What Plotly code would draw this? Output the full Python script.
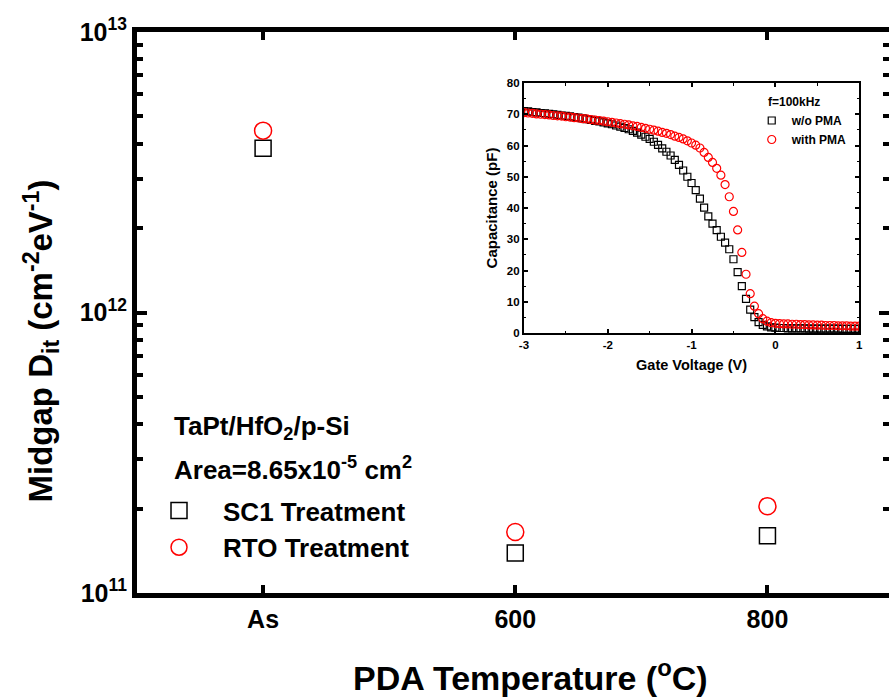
import plotly.graph_objects as go

# ---------------- main chart data ----------------
categories = ["As", "600", "800"]
sc1_dit = [3.85e12, 1.39e11, 1.60e11]
rto_dit = [4.45e12, 1.65e11, 2.04e11]

y_major = [1e11, 1e12, 1e13]
y_major_text = ["10<sup>11</sup>", "10<sup>12</sup>", "10<sup>13</sup>"]
y_minor = [2e11, 3e11, 4e11, 5e11, 6e11, 7e11, 8e11, 9e11,
           2e12, 3e12, 4e12, 5e12, 6e12, 7e12, 8e12, 9e12]

# ---------------- inset C-V data ----------------
gate_v = [-3.00, -2.95, -2.90, -2.85, -2.80, -2.75, -2.70, -2.65, -2.60, -2.55,
          -2.50, -2.45, -2.40, -2.35, -2.30, -2.25, -2.20, -2.15, -2.10, -2.05,
          -2.00, -1.95, -1.90, -1.85, -1.80, -1.75, -1.70, -1.65, -1.60, -1.55,
          -1.50, -1.45, -1.40, -1.35, -1.30, -1.25, -1.20, -1.15, -1.10, -1.05,
          -1.00, -0.95, -0.90, -0.85, -0.80, -0.75, -0.70, -0.65, -0.60, -0.55,
          -0.50, -0.45, -0.40, -0.35, -0.30, -0.25, -0.20, -0.15, -0.10, -0.05,
          0.00, 0.05, 0.10, 0.15, 0.20, 0.25, 0.30, 0.35, 0.40, 0.45,
          0.50, 0.55, 0.60, 0.65, 0.70, 0.75, 0.80, 0.85, 0.90, 0.95, 1.00]
cap_wo_pma = [71.0, 70.9, 70.7, 70.6, 70.4, 70.3, 70.1, 70.0, 69.8, 69.6,
              69.5, 69.3, 69.1, 68.9, 68.7, 68.4, 68.2, 67.9, 67.7, 67.4,
              67.1, 66.8, 66.4, 66.0, 65.6, 65.2, 64.7, 64.1, 63.5, 62.8,
              62.1, 61.2, 60.2, 59.1, 58.0, 56.8, 55.4, 53.8, 52.0, 50.0,
              48.0, 45.7, 43.0, 40.1, 37.3, 35.0, 32.9, 30.8, 28.9, 26.8,
              23.6, 19.5, 15.0, 10.9, 7.5, 5.1, 3.5, 2.6, 2.1, 1.8,
              1.7, 1.6, 1.6, 1.5, 1.5, 1.5, 1.5, 1.5, 1.4, 1.4,
              1.4, 1.4, 1.4, 1.4, 1.4, 1.4, 1.3, 1.3, 1.3, 1.3, 1.3]
cap_with_pma = [70.5, 70.4, 70.3, 70.1, 70.0, 69.9, 69.8, 69.6, 69.5, 69.4,
                69.2, 69.1, 68.9, 68.8, 68.6, 68.5, 68.3, 68.1, 68.0, 67.8,
                67.6, 67.4, 67.2, 67.0, 66.8, 66.6, 66.3, 66.1, 65.8, 65.5,
                65.2, 64.9, 64.6, 64.2, 63.9, 63.5, 63.0, 62.6, 62.1, 61.5,
                60.8, 60.1, 59.2, 57.8, 56.2, 54.6, 52.7, 50.5, 47.5, 43.6,
                38.9, 33.0, 25.8, 18.8, 12.6, 8.6, 6.2, 4.6, 3.8, 3.3,
                3.1, 3.0, 2.9, 2.9, 2.8, 2.8, 2.7, 2.7, 2.6, 2.6,
                2.5, 2.5, 2.4, 2.4, 2.4, 2.3, 2.3, 2.3, 2.2, 2.2, 2.2]

inset_x_ticks = [-3, -2, -1, 0, 1]
inset_x_text = ["-3", "-2", "-1", "0", "1"]
inset_y_ticks = [0, 10, 20, 30, 40, 50, 60, 70, 80]

FONT = "Liberation Sans, Arial, sans-serif"

fig = go.Figure()

# main traces
fig.add_trace(go.Scatter(
    x=categories, y=sc1_dit, mode="markers", name="SC1 Treatment",
    marker=dict(symbol="square-open", size=16, color="black", line=dict(width=1.5)),
    legend="legend", xaxis="x", yaxis="y"))
fig.add_trace(go.Scatter(
    x=categories, y=rto_dit, mode="markers", name="RTO Treatment",
    marker=dict(symbol="circle-open", size=17, color="red", line=dict(width=1.5)),
    legend="legend", xaxis="x", yaxis="y"))
# invisible carrier for the right-hand mirrored tick axis
fig.add_trace(go.Scatter(
    x=categories, y=sc1_dit, mode="markers", showlegend=False, hoverinfo="skip",
    marker=dict(opacity=0), xaxis="x", yaxis="y2"))

# inset traces
fig.add_trace(go.Scatter(
    x=gate_v, y=cap_wo_pma, mode="markers", name="w/o PMA",
    marker=dict(symbol="square-open", size=7, color="black", line=dict(width=1.2)),
    legend="legend2", xaxis="x2", yaxis="y3"))
fig.add_trace(go.Scatter(
    x=gate_v, y=cap_with_pma, mode="markers", name="with PMA",
    marker=dict(symbol="circle-open", size=8, color="red", line=dict(width=1.2)),
    legend="legend2", xaxis="x2", yaxis="y3"))

L, R, T, B = 137, 0, 32, 107
W, H = 893, 700
pw, ph = W - L - R, H - T - B

def px_x(x):
    return (x - L) / pw

def px_y(y):
    return (H - B - y) / ph

fig.update_layout(
    width=W, height=H,
    margin=dict(l=L, r=R, t=T, b=B),
    paper_bgcolor="white", plot_bgcolor="rgba(0,0,0,0)",
    font=dict(family=FONT, color="black", weight="bold"),
    xaxis=dict(
        type="category", categoryarray=categories, range=[-0.5, 2.482],
        showline=True, linewidth=5, linecolor="black", mirror="ticks",
        ticks="inside", ticklen=8, tickwidth=4, tickcolor="black",
        tickfont=dict(size=25, family=FONT, weight="bold"),
        showgrid=False, zeroline=False,
    ),
    yaxis=dict(
        type="log", range=[11, 13],
        tickmode="array", tickvals=y_major, ticktext=y_major_text,
        showline=True, linewidth=5, linecolor="black",
        ticks="inside", ticklen=10, tickwidth=4, tickcolor="black",
        tickfont=dict(size=25, family=FONT, weight="bold"),
        minor=dict(tickmode="array", tickvals=y_minor, ticks="inside",
                   ticklen=6, tickwidth=4, tickcolor="black", showgrid=False),
        showgrid=False, zeroline=False,
    ),
    yaxis2=dict(
        type="log", range=[11, 13], overlaying="y", side="right", anchor="x",
        tickmode="array", tickvals=y_major, showticklabels=False,
        showline=False, ticks="inside", ticklen=10, tickwidth=4, tickcolor="black",
        minor=dict(tickmode="array", tickvals=y_minor, ticks="inside",
                   ticklen=6, tickwidth=4, tickcolor="black", showgrid=False),
        showgrid=False, zeroline=False,
    ),
    xaxis2=dict(
        domain=[px_x(526), px_x(863)], anchor="y3", range=[-3, 1],
        tickmode="array", tickvals=inset_x_ticks, ticktext=inset_x_text,
        showline=True, linewidth=2, linecolor="black", mirror="ticks",
        ticks="inside", ticklen=4, tickwidth=1.5, tickcolor="black",
        minor=dict(dtick=0.5, tick0=0, ticks="inside", ticklen=2.5, tickwidth=1.2,
                   tickcolor="black", showgrid=False),
        tickfont=dict(size=11.5, family=FONT, weight="bold"),
        showgrid=False, zeroline=False,
        title=dict(text="Gate Voltage (V)",
                   font=dict(size=14.5, family=FONT, weight="bold"), standoff=10),
    ),
    yaxis3=dict(
        domain=[px_y(333), px_y(83)], anchor="x2", range=[0, 80],
        tickmode="array", tickvals=inset_y_ticks,
        showline=True, linewidth=2, linecolor="black", mirror="ticks",
        ticks="inside", ticklen=4, tickwidth=1.5, tickcolor="black",
        minor=dict(dtick=5, tick0=0, ticks="inside", ticklen=2.5, tickwidth=1.2,
                   tickcolor="black", showgrid=False),
        tickfont=dict(size=11.5, family=FONT, weight="bold"),
        showgrid=False, zeroline=False,
        title=dict(text="Capacitance (pF)",
                   font=dict(size=15, family=FONT, weight="bold"), standoff=6),
    ),
    legend=dict(
        x=px_x(135), y=px_y(487), xanchor="left", yanchor="top",
        font=dict(size=26, family=FONT, weight="bold"),
        bgcolor="rgba(0,0,0,0)", itemwidth=78, tracegroupgap=0,
    ),
    legend2=dict(
        x=px_x(755), y=px_y(106), xanchor="left", yanchor="top",
        font=dict(size=12, family=FONT, weight="bold"),
        bgcolor="rgba(0,0,0,0)", itemwidth=30, tracegroupgap=0,
    ),
    annotations=[
        dict(text="TaPt/HfO<sub>2</sub>/p-Si", xref="paper", yref="paper",
             x=px_x(172), y=px_y(428), xanchor="left", yanchor="middle",
             showarrow=False, font=dict(size=26, family=FONT, weight="bold")),
        dict(text="Area=8.65x10<sup>-5</sup> cm<sup>2</sup>", xref="paper", yref="paper",
             x=px_x(172), y=px_y(468), xanchor="left", yanchor="middle",
             showarrow=False, font=dict(size=26, family=FONT, weight="bold")),
        dict(text="f=100kHz", xref="paper", yref="paper",
             x=px_x(769), y=px_y(102), xanchor="left", yanchor="middle",
             showarrow=False, font=dict(size=12, family=FONT, weight="bold")),
        dict(text="PDA Temperature (<sup>o</sup>C)", xref="paper", yref="paper",
             x=px_x(533), y=px_y(675), xanchor="center", yanchor="middle",
             showarrow=False, font=dict(size=34, family=FONT, weight="bold")),
        dict(text="Midgap D<sub>it</sub> (cm<sup>-2</sup>eV<sup>-1</sup>)",
             xref="paper", yref="paper", textangle=-90,
             x=px_x(40), y=px_y(341), xanchor="center", yanchor="middle",
             showarrow=False, font=dict(size=33, family=FONT, weight="bold")),
    ],
)

fig.write_html("out.html")
